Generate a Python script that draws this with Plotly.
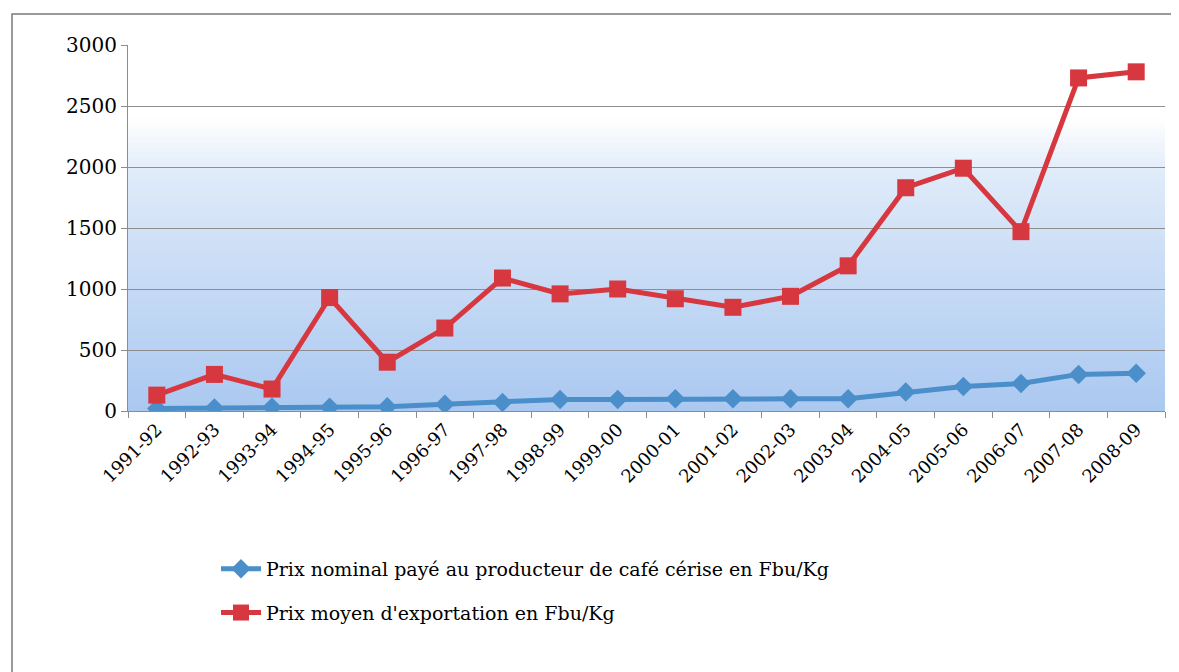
import plotly.graph_objects as go

categories = ["1991-92", "1992-93", "1993-94", "1994-95", "1995-96", "1996-97",
              "1997-98", "1998-99", "1999-00", "2000-01", "2001-02", "2002-03",
              "2003-04", "2004-05", "2005-06", "2006-07", "2007-08", "2008-09"]
prix_producteur = [20, 25, 30, 30, 35, 55, 70, 95, 95, 100, 100, 100, 100, 155, 200, 225, 300, 310]
prix_export = [130, 300, 180, 930, 400, 680, 1090, 960, 1000, 920, 850, 940, 1190, 1830, 1990, 1470, 2730, 2780]
y_ticks = [0, 500, 1000, 1500, 2000, 2500, 3000]

OFF = 8  # page body margin
W, H = 1179 - OFF, 672 - OFF
L, R, T, B = 128 - OFF, 14, 45 - OFF, 672 - 411
pw, ph = W - L - R, H - T - B

SERIF = "DejaVu Serif"

def px(x):
    return (x - OFF - L) / pw

def py(y):
    return (T + ph - (y - OFF)) / ph

fig = go.Figure()

fig.add_trace(go.Scatter(
    x=categories, y=prix_producteur, mode="lines+markers",
    name="Prix nominal payé au producteur de café cérise en Fbu/Kg",
    legendgroup="a",
    line=dict(color="#4a8fca", width=5),
    marker=dict(symbol="diamond", size=15, color="#4a8fca"),
))
fig.add_trace(go.Scatter(
    x=categories, y=prix_export, mode="lines+markers",
    name="Prix moyen d'exportation en Fbu/Kg",
    legendgroup="b",
    line=dict(color="#d7373f", width=5),
    marker=dict(symbol="square", size=17, color="#d7373f"),
))

shapes = []
n = 60
top_frac = 0.80
def lerp(a, b, t):
    return int(round(a + (b - a) * t))
c_bot = (170, 200, 240)
c_mid = (222, 234, 249)
c_top = (255, 255, 255)
for i in range(n):
    y0 = top_frac * i / n
    y1 = top_frac * (i + 1) / n + 0.002
    t = (i + 0.5) / n
    if t < 0.8:
        u = t / 0.8
        c = tuple(lerp(c_bot[k], c_mid[k], u) for k in range(3))
    else:
        u = (t - 0.8) / 0.2
        c = tuple(lerp(c_mid[k], c_top[k], u) for k in range(3))
    shapes.append(dict(type="rect", xref="paper", yref="paper", x0=0, x1=1,
                       y0=y0, y1=min(y1, top_frac), fillcolor="rgb(%d,%d,%d)" % c,
                       line=dict(width=0), layer="below"))

shapes.append(dict(type="rect", xref="paper", yref="paper",
                   x0=px(12), x1=px(1195), y0=py(14), y1=py(700),
                   line=dict(color="#7a7a7a", width=1.5), fillcolor="rgba(0,0,0,0)",
                   layer="above"))

fig.update_layout(
    width=W, height=H,
    margin=dict(l=L, r=R, t=T, b=B),
    paper_bgcolor="white", plot_bgcolor="white",
    font=dict(family=SERIF, color="black", size=20),
    shapes=shapes,
    showlegend=True,
    legend=dict(x=px(216), y=py(550), xanchor="left", yanchor="top",
                font=dict(size=19, family=SERIF),
                bgcolor="rgba(0,0,0,0)", tracegroupgap=16, itemwidth=40),
)
fig.update_xaxes(
    type="category", tickangle=-45, tickfont=dict(size=18, family=SERIF),
    showgrid=False, showline=True, linecolor="#8c8c8c", linewidth=1,
    ticks="outside", tickson="boundaries", ticklen=6, tickcolor="#8c8c8c",
    range=[-0.5, len(categories) - 0.5],
)
fig.update_yaxes(
    range=[0, 3000], tickvals=y_ticks, tickfont=dict(size=20, family=SERIF),
    showgrid=True, gridcolor="#8e8e8e", gridwidth=1,
    showline=True, linecolor="#8c8c8c", linewidth=1,
    ticks="outside", ticklen=6, tickcolor="#8c8c8c", zeroline=False,
)

fig.write_html("out.html")
